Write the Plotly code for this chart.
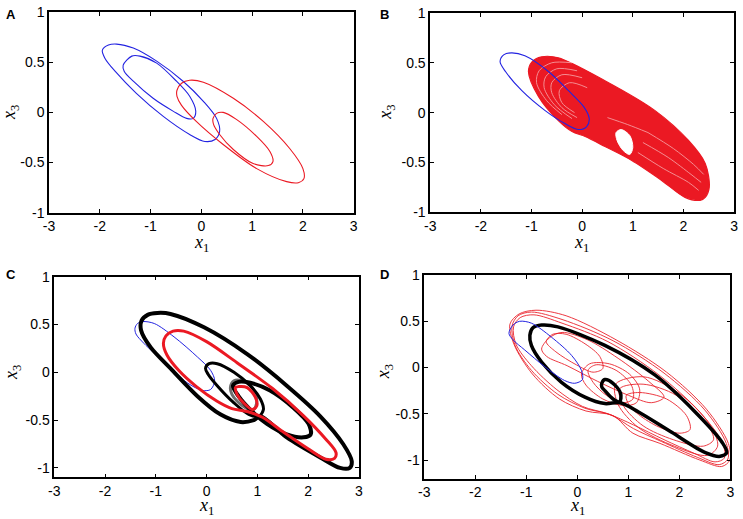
import plotly.graph_objects as go

# ---------------- tick labels ----------------
x_tick_vals = [-3, -2, -1, 0, 1, 2, 3]
x_tick_text = ["-3", "-2", "-1", "0", "1", "2", "3"]
y_tick_vals = [-1, -0.5, 0, 0.5, 1]
y_tick_text = ["-1", "-0.5", "0", "0.5", "1"]
panel_labels = ["A", "B", "C", "D"]

# ---------------- Panel A ----------------
a_blue_outer_x = [-1.95, -1.83, -1.67, -1.34, -0.88, -0.36, 0.04, 0.30, 0.36, 0.27, 0.07, -0.23, -0.75, -1.28, -1.70, -1.90]
a_blue_outer_y = [0.62, 0.67, 0.68, 0.64, 0.51, 0.31, 0.11, -0.06, -0.19, -0.27, -0.29, -0.22, -0.04, 0.19, 0.41, 0.54]
a_blue_inner_x = [-1.54, -1.37, -1.21, -0.88, -0.49, -0.23, -0.11, -0.16, -0.29, -0.55, -0.95, -1.34, -1.52]
a_blue_inner_y = [0.47, 0.56, 0.56, 0.49, 0.31, 0.16, 0.01, -0.06, -0.06, 0.01, 0.14, 0.31, 0.41]
a_red_outer_x = [-0.48, -0.39, -0.23, 0.04, 0.63, 1.22, 1.74, 2.00, 2.02, 1.91, 1.68, 1.09, 0.43, -0.10, -0.39, -0.48]
a_red_outer_y = [0.22, 0.29, 0.32, 0.30, 0.14, -0.09, -0.36, -0.56, -0.66, -0.70, -0.69, -0.56, -0.32, -0.09, 0.07, 0.16]
a_red_inner_x = [0.23, 0.30, 0.43, 0.69, 1.09, 1.35, 1.41, 1.32, 1.02, 0.63, 0.36, 0.24]
a_red_inner_y = [-0.06, -0.01, 0.00, -0.07, -0.24, -0.39, -0.49, -0.53, -0.51, -0.37, -0.22, -0.12]

# ---------------- Panel B ----------------
b_blue_x = [-1.62, -1.55, -1.39, -1.13, -0.66, -0.27, 0.03, 0.14, 0.09, -0.07, -0.34, -0.73, -1.19, -1.51]
b_blue_y = [0.51, 0.58, 0.60, 0.57, 0.41, 0.22, 0.06, -0.06, -0.14, -0.17, -0.11, 0.02, 0.22, 0.41]
b_red_region_x = [-0.99, -0.80, -0.47, 0.45, 1.44, 2.10, 2.43, 2.51, 2.43, 2.33, 2.03, 1.57, 0.98, 0.45, 0.06, -0.20, -0.47, -0.86, -1.06]
b_red_region_y = [0.51, 0.56, 0.55, 0.32, 0.02, -0.28, -0.51, -0.75, -0.85, -0.88, -0.85, -0.68, -0.48, -0.34, -0.24, -0.19, -0.08, 0.16, 0.41]
b_hole_x = [0.67, 0.77, 0.94, 1.00, 0.94, 0.81, 0.69]
b_hole_y = [-0.20, -0.17, -0.23, -0.35, -0.42, -0.38, -0.28]
b_streaks_x = [
    [-0.20, -0.60, -0.85, -0.90, -0.70, -0.40],
    [-0.10, -0.50, -0.72, -0.75, -0.55, -0.20],
    [0.00, -0.40, -0.60, -0.60, -0.40, -0.10],
    [0.10, -0.25, -0.45, -0.40, -0.15],
    [1.10, 1.60, 2.10, 2.30],
    [1.20, 1.70, 2.15, 2.35],
    [0.50, 0.90, 1.30],
    [1.30, 1.80, 2.20, 2.40],
]
b_streaks_y = [
    [0.50, 0.50, 0.42, 0.30, 0.12, -0.02],
    [0.42, 0.44, 0.36, 0.25, 0.08, -0.06],
    [0.35, 0.38, 0.30, 0.20, 0.05, -0.05],
    [0.25, 0.30, 0.22, 0.10, 0.00],
    [-0.40, -0.56, -0.70, -0.78],
    [-0.30, -0.45, -0.62, -0.70],
    [-0.05, -0.12, -0.20],
    [-0.20, -0.36, -0.52, -0.62],
]

# ---------------- Panel C ----------------
c_blue_x = [-1.41, -1.36, -1.26, -1.03, -0.64, -0.18, 0.08, 0.16, 0.08, -0.08, -0.38, -0.84, -1.23, -1.39]
c_blue_y = [0.46, 0.51, 0.53, 0.51, 0.37, 0.16, 0.02, -0.09, -0.18, -0.19, -0.11, 0.11, 0.30, 0.40]
c_black_outer_x = [-1.28, -1.16, -0.97, -0.71, -0.05, 0.80, 1.58, 2.24, 2.69, 2.86, 2.82, 2.63, 2.24, 1.58, 1.06, 0.93, 0.67, 0.27, -0.18, -0.71, -1.10, -1.29]
c_black_outer_y = [0.54, 0.60, 0.62, 0.61, 0.47, 0.19, -0.14, -0.46, -0.75, -0.93, -1.00, -1.00, -0.89, -0.68, -0.46, -0.50, -0.52, -0.44, -0.25, 0.04, 0.26, 0.44]
c_black_inner_x = [-0.02, 0.05, 0.21, 0.54, 0.86, 1.06, 1.12, 1.03, 0.83, 0.54, 0.21, 0.03]
c_black_inner_y = [0.04, 0.09, 0.09, 0.00, -0.14, -0.28, -0.39, -0.46, -0.44, -0.32, -0.14, -0.02]
c_black_right_x = [0.52, 0.63, 0.86, 1.25, 1.71, 2.01, 2.05, 1.91, 1.58, 1.19, 0.86, 0.63]
c_black_right_y = [-0.14, -0.10, -0.11, -0.19, -0.37, -0.54, -0.65, -0.68, -0.65, -0.54, -0.39, -0.25]
c_gray_x = [0.47, 0.54, 0.70, 0.90, 0.99, 0.93, 0.80, 0.60, 0.50]
c_gray_y = [-0.16, -0.09, -0.09, -0.16, -0.30, -0.39, -0.38, -0.30, -0.23]
c_red_outer_x = [-0.85, -0.80, -0.66, -0.45, 0.00, 0.60, 1.30, 1.90, 2.35, 2.55, 2.52, 2.35, 2.00, 1.50, 1.10, 0.80, 0.50, 0.20, -0.20, -0.55, -0.78]
c_red_outer_y = [0.30, 0.38, 0.43, 0.43, 0.32, 0.10, -0.17, -0.45, -0.70, -0.84, -0.90, -0.91, -0.80, -0.62, -0.47, -0.41, -0.38, -0.30, -0.15, 0.02, 0.18]
c_red_small_x = [0.57, 0.63, 0.80, 0.96, 0.99, 0.90, 0.73, 0.60]
c_red_small_y = [-0.16, -0.15, -0.16, -0.26, -0.35, -0.39, -0.32, -0.23]

# ---------------- Panel D ----------------
d_blue_x = [-1.34, -1.26, -1.13, -0.90, -0.51, -0.11, 0.08, 0.10, -0.05, -0.25, -0.64, -1.03, -1.26]
d_blue_y = [0.37, 0.46, 0.50, 0.48, 0.33, 0.13, -0.03, -0.13, -0.17, -0.14, 0.01, 0.19, 0.30]
d_black_big_x = [-0.93, -0.87, -0.70, -0.38, 0.54, 1.52, 2.31, 2.84, 2.93, 2.80, 2.51, 1.85, 1.20, 0.84, 0.54, 0.15, -0.31, -0.70, -0.90]
d_black_big_y = [0.35, 0.43, 0.46, 0.44, 0.24, -0.08, -0.48, -0.81, -0.92, -0.96, -0.92, -0.70, -0.48, -0.38, -0.39, -0.32, -0.16, 0.06, 0.24]
d_black_small_x = [0.48, 0.54, 0.70, 0.85, 0.83, 0.70, 0.54, 0.48]
d_black_small_y = [-0.17, -0.13, -0.17, -0.28, -0.37, -0.34, -0.25, -0.21]
d_red_loops_x = [
    [-1.32, -1.14, -0.81, -0.22, 0.76, 1.75, 2.53, 2.96, 2.99, 2.83, 2.40, 1.62, 1.09, 0.70, 0.17, -0.35, -0.88, -1.24],
    [-1.28, -1.16, -0.90, -0.30, 0.70, 1.70, 2.50, 2.92, 2.95, 2.78, 2.35, 1.65, 1.10, 0.65, 0.15, -0.38, -0.90, -1.22],
    [-1.25, -1.12, -0.85, -0.30, 0.60, 1.60, 2.40, 2.85, 2.88, 2.70, 2.30, 1.70, 1.10, 0.60, 0.10, -0.40, -0.90, -1.20],
    [-0.61, -0.48, -0.22, 0.17, 0.44, 0.50, 0.31, -0.02, -0.42],
    [0.96, 1.22, 1.75, 2.14, 2.21, 2.01, 1.55, 1.16, 0.99],
    [0.83, 1.29, 1.94, 2.53, 2.67, 2.47, 1.88, 1.29, 0.90],
    [0.75, 1.30, 2.00, 2.60, 2.75, 2.55, 1.90, 1.20, 0.80],
    [0.21, 0.37, 0.76, 1.06, 1.09, 0.90, 0.57, 0.31],
    [0.08, 0.24, 0.63, 1.02, 1.22, 1.16, 0.90, 0.50, 0.17],
    [-0.70, -0.55, -0.30, 0.20, 0.80, 1.40, 1.70, 1.45, 1.00, 0.40, -0.20, -0.60],
]
d_red_loops_y = [
    [0.47, 0.58, 0.62, 0.56, 0.30, -0.05, -0.45, -0.82, -1.00, -1.07, -1.00, -0.82, -0.71, -0.52, -0.47, -0.34, -0.07, 0.25],
    [0.45, 0.56, 0.60, 0.52, 0.29, -0.06, -0.46, -0.82, -0.99, -1.05, -0.97, -0.80, -0.66, -0.51, -0.44, -0.29, -0.03, 0.24],
    [0.44, 0.54, 0.57, 0.48, 0.28, -0.08, -0.48, -0.82, -0.98, -1.02, -0.93, -0.78, -0.62, -0.50, -0.42, -0.24, 0.02, 0.25],
    [0.28, 0.36, 0.36, 0.25, 0.12, -0.01, -0.05, 0.03, 0.17],
    [-0.30, -0.27, -0.34, -0.52, -0.67, -0.71, -0.63, -0.49, -0.38],
    [-0.23, -0.18, -0.30, -0.60, -0.78, -0.85, -0.78, -0.63, -0.41],
    [-0.18, -0.10, -0.28, -0.62, -0.85, -0.95, -0.85, -0.65, -0.40],
    [-0.03, 0.03, -0.03, -0.19, -0.34, -0.38, -0.30, -0.16],
    [-0.07, 0.04, 0.04, -0.07, -0.23, -0.38, -0.41, -0.34, -0.19],
    [0.20, 0.32, 0.38, 0.30, 0.10, -0.15, -0.32, -0.38, -0.30, -0.15, 0.02, 0.12],
]

RED = "rgb(235,25,35)"
BLUE = "rgb(35,35,225)"
BLACK = "black"

fig = go.Figure()


def loop(xs, ys, color, width, ax, closed=True, fill=None, opacity=1.0):
    xx = list(xs) + ([xs[0]] if closed else [])
    yy = list(ys) + ([ys[0]] if closed else [])
    kw = {}
    if fill:
        kw = dict(fill="toself", fillcolor=fill)
    fig.add_trace(go.Scatter(
        x=xx, y=yy, mode="lines",
        line=dict(color=color, width=width, shape="spline", smoothing=0.9),
        xaxis="x" + ax, yaxis="y" + ax, showlegend=False, hoverinfo="skip",
        opacity=opacity, **kw))


# A
loop(a_blue_outer_x, a_blue_outer_y, BLUE, 1.1, "")
loop(a_blue_inner_x, a_blue_inner_y, BLUE, 1.1, "")
loop(a_red_outer_x, a_red_outer_y, RED, 1.1, "")
loop(a_red_inner_x, a_red_inner_y, RED, 1.1, "")
# B
loop(b_red_region_x, b_red_region_y, RED, 1.2, "2", fill=RED)
loop(b_hole_x, b_hole_y, "white", 1, "2", fill="white")
for gx, gy in zip(b_streaks_x, b_streaks_y):
    loop(gx, gy, "white", 1, "2", closed=False, opacity=0.5)
loop(b_blue_x, b_blue_y, BLUE, 1.1, "2")
# C
loop(c_blue_x, c_blue_y, BLUE, 1.0, "3")
loop(c_gray_x, c_gray_y, "rgb(110,110,110)", 3, "3")
loop(c_black_outer_x, c_black_outer_y, BLACK, 4, "3")
loop(c_black_inner_x, c_black_inner_y, BLACK, 3, "3")
loop(c_black_right_x, c_black_right_y, BLACK, 4, "3")
loop(c_red_outer_x, c_red_outer_y, RED, 3, "3")
loop(c_red_small_x, c_red_small_y, RED, 3, "3")
# D
for rx, ry in zip(d_red_loops_x, d_red_loops_y):
    loop(rx, ry, RED, 1.0, "4", opacity=0.85)
loop(d_black_big_x, d_black_big_y, BLACK, 3.5, "4")
loop(d_black_small_x, d_black_small_y, BLACK, 3.5, "4")
loop(d_blue_x, d_blue_y, BLUE, 1.0, "4")

tickfont = dict(family="Liberation Sans, Arial", size=14, color="black")
titlefont = dict(family="Liberation Serif, Times New Roman", size=18, color="black")


def xaxis(domain, anchor):
    return dict(domain=domain, anchor=anchor, range=[-3, 3], tickvals=x_tick_vals, ticktext=x_tick_text,
                ticks="inside", ticklen=4, tickwidth=1, tickcolor="black", mirror="allticks",
                showline=True, linecolor="black", linewidth=1.5, showgrid=False, zeroline=False,
                automargin=False, tickfont=tickfont)


def yaxis(domain, anchor, rng):
    return dict(domain=domain, anchor=anchor, range=rng, tickvals=y_tick_vals, ticktext=y_tick_text,
                ticks="inside", ticklen=4, tickwidth=1, tickcolor="black", mirror="allticks",
                showline=True, linecolor="black", linewidth=1.5, showgrid=False, zeroline=False,
                automargin=False, tickfont=tickfont)


fig.update_layout(
    width=743, height=519, margin=dict(l=0, r=0, t=0, b=0, autoexpand=False),
    paper_bgcolor="white", plot_bgcolor="white",
    xaxis=xaxis([0.066, 0.476], "y"), yaxis=yaxis([0.590, 0.977], "x", [-1, 1]),
    xaxis2=xaxis([0.579, 0.988], "y2"), yaxis2=yaxis([0.591, 0.975], "x2", [-1, 1]),
    xaxis3=xaxis([0.073, 0.483], "y3"), yaxis3=yaxis([0.080, 0.467], "x3", [-1.1, 1]),
    xaxis4=xaxis([0.571, 0.983], "y4"), yaxis4=yaxis([0.078, 0.470], "x4", [-1.2, 1]),
)

# axis titles (paper positions)
x_title_pos = [(0.271, 0.530), (0.783, 0.530), (0.278, 0.024), (0.777, 0.024)]
y_title_pos = [(0.014, 0.783), (0.521, 0.783), (0.016, 0.283), (0.517, 0.283)]
for px, py in x_title_pos:
    fig.add_annotation(text="<i>x</i><sub>1</sub>", x=px, y=py, xref="paper", yref="paper",
                       showarrow=False, xanchor="center", yanchor="middle", font=titlefont)
for px, py in y_title_pos:
    fig.add_annotation(text="<i>x</i><sub>3</sub>", x=px, y=py, xref="paper", yref="paper",
                       showarrow=False, xanchor="center", yanchor="middle", textangle=-90, font=titlefont)

label_pos = [(0.015, 0.99), (0.518, 0.99), (0.015, 0.49), (0.517, 0.49)]
for lab, (px, py) in zip(panel_labels, label_pos):
    fig.add_annotation(text="<b>" + lab + "</b>", x=px, y=py, xref="paper", yref="paper",
                       showarrow=False, xanchor="center", yanchor="top",
                       font=dict(family="Liberation Sans, Arial", size=13, color="black"))

fig.write_html("out.html", config={"displayModeBar": False},
               post_script="document.body.style.margin='0px';document.body.style.overflow='hidden';")
